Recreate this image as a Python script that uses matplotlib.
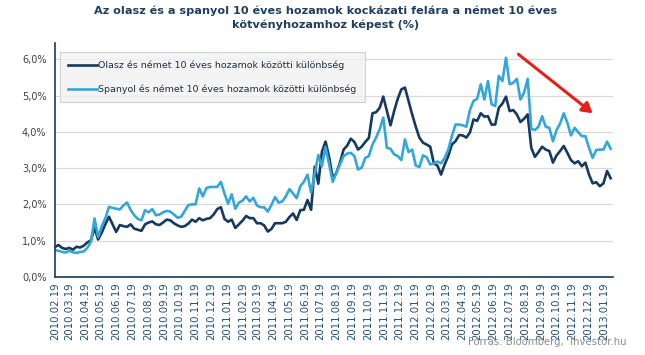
import numpy as np
import pandas as pd
import matplotlib
matplotlib.use("Agg")
import matplotlib.pyplot as plt
from matplotlib.ticker import FuncFormatter

# heti adatok 2010.02.19-tol (becsült értékek a grafikonról)
datumok = pd.date_range("2010-02-19", periods=155, freq="7D")

olasz = [0.82, 0.88, 0.80, 0.77, 0.80, 0.75, 0.83, 0.81, 0.86, 0.95,
         1.01, 1.35, 1.03, 1.22, 1.45, 1.66, 1.45, 1.24, 1.43, 1.40,
         1.38, 1.45, 1.33, 1.30, 1.27, 1.45, 1.50, 1.53, 1.45, 1.43,
         1.50, 1.58, 1.56, 1.48, 1.42, 1.38, 1.40, 1.47, 1.58, 1.52,
         1.62, 1.56, 1.60, 1.62, 1.72, 1.87, 1.92, 1.60, 1.52, 1.58,
         1.35, 1.45, 1.55, 1.68, 1.62, 1.62, 1.48, 1.48, 1.42, 1.25,
         1.32, 1.48, 1.48, 1.48, 1.52, 1.65, 1.75, 1.57, 1.84, 1.85,
         2.12, 1.85, 3.04, 2.57, 3.45, 3.73, 3.30, 2.72, 2.87, 3.15,
         3.51, 3.62, 3.81, 3.72, 3.51, 3.59, 3.72, 3.83, 4.51, 4.54,
         4.66, 4.97, 4.57, 4.18, 4.57, 4.91, 5.17, 5.22, 4.85, 4.48,
         4.14, 3.84, 3.70, 3.65, 3.59, 3.13, 3.07, 2.82, 3.10, 3.33,
         3.65, 3.74, 3.91, 3.90, 3.84, 3.98, 4.34, 4.30, 4.51, 4.42,
         4.43, 4.20, 4.20, 4.66, 4.78, 4.97, 4.57, 4.60, 4.48, 4.27,
         4.36, 4.48, 3.56, 3.31, 3.44, 3.59, 3.51, 3.47, 3.15, 3.35,
         3.47, 3.61, 3.42, 3.22, 3.13, 3.19, 3.05, 3.15, 2.82, 2.58,
         2.61, 2.50, 2.58, 2.92, 2.72]

spanyol = [0.74, 0.72, 0.69, 0.67, 0.72, 0.68, 0.66, 0.69, 0.70, 0.80,
           0.96, 1.61, 1.10, 1.40, 1.62, 1.93, 1.90, 1.88, 1.86, 1.97,
           2.05, 1.85, 1.70, 1.60, 1.56, 1.84, 1.78, 1.87, 1.70, 1.72,
           1.78, 1.82, 1.80, 1.72, 1.63, 1.66, 1.82, 1.98, 2.00, 2.00,
           2.44, 2.22, 2.45, 2.48, 2.48, 2.48, 2.62, 2.30, 2.02, 2.28,
           1.88, 2.05, 2.10, 2.22, 2.08, 2.18, 1.97, 1.92, 1.92, 1.80,
           1.98, 2.20, 2.05, 2.08, 2.22, 2.42, 2.30, 2.17, 2.50, 2.62,
           2.82, 2.32, 2.85, 3.36, 3.05, 3.58, 3.10, 2.62, 2.87, 3.10,
           3.33, 3.40, 3.42, 3.33, 2.96, 3.01, 3.28, 3.33, 3.65, 3.84,
           4.07, 4.39, 3.56, 3.53, 3.38, 3.33, 3.22, 3.79, 3.44, 3.51,
           3.07, 3.03, 3.35, 3.30, 3.10, 3.13, 3.18, 3.13, 3.28, 3.51,
           3.88, 4.20, 4.20, 4.18, 4.14, 4.60, 4.85, 4.91, 5.31, 4.89,
           5.40, 4.76, 4.71, 5.54, 5.40, 6.04, 5.31, 5.35, 5.46, 4.89,
           5.08, 5.46, 4.08, 4.05, 4.14, 4.43, 4.14, 4.11, 3.74, 4.05,
           4.23, 4.51, 4.25, 3.90, 4.11, 3.99, 3.88, 3.88, 3.56, 3.28,
           3.50, 3.51, 3.51, 3.73, 3.53]

honap_tickek = pd.date_range("2010-02-01", "2013-01-01", freq="MS") + pd.Timedelta(days=18)
honap_cimkek = [d.strftime("%Y.%m.%d") for d in honap_tickek]

sotet = "#163A5F"
vilagos = "#35A6DA"

fig = plt.figure(figsize=(6.45, 3.55), dpi=100)
ax = fig.add_axes([0.085, 0.22, 0.865, 0.659])

ax.plot(datumok, olasz, color=sotet, lw=1.9,
        label="Olasz és német 10 éves hozamok közötti különbség")
ax.plot(datumok, spanyol, color=vilagos, lw=1.9,
        label="Spanyol és német 10 éves hozamok közötti különbség")

ax.set_ylim(0, 6.45)
ax.set_yticks(np.arange(0, 7, 1))
ax.yaxis.set_major_formatter(FuncFormatter(lambda v, p: f"{v:.1f}%".replace(".", ",")))
ax.set_xlim(datumok[0], pd.Timestamp("2013-02-05"))
ax.set_xticks(honap_tickek)
ax.set_xticklabels(honap_cimkek, rotation=90, fontsize=7.3, color="#1F4E79")
ax.tick_params(axis="y", labelsize=7, colors="#404040", length=0, pad=6)
ax.tick_params(axis="x", length=0, pad=4)

ax.grid(axis="y", color="#D9D9D9", lw=0.9)
ax.set_axisbelow(True)
for s in ["top", "right"]:
    ax.spines[s].set_visible(False)
for s in ["left", "bottom"]:
    ax.spines[s].set_color(sotet)
    ax.spines[s].set_linewidth(1.2)

leg = ax.legend(loc="upper left", bbox_to_anchor=(0.009, 0.962), fontsize=6.8,
                frameon=True, fancybox=False, handlelength=3.0,
                labelspacing=1.55, borderpad=0.9, handletextpad=0.15,
                borderaxespad=0)
leg.get_frame().set_facecolor("#F2F2F2")
leg.get_frame().set_edgecolor("#C8C8C8")
leg.get_frame().set_linewidth(0.8)
for t in leg.get_texts():
    t.set_color("#1F2F3F")

ax.annotate("", xy=(0.968, 0.692), xytext=(0.827, 0.959), xycoords="axes fraction",
            arrowprops=dict(arrowstyle="-|>,head_length=0.6,head_width=0.35",
                            color="#E8201A", lw=2.2))

fig.text(0.505, 0.985, "Az olasz és a spanyol 10 éves hozamok kockázati felára a német 10 éves\nkötvényhozamhoz képest (%)",
         ha="center", va="top", fontsize=8.1, fontweight="bold", color="#1F3F5F",
         linespacing=1.4)
fig.text(0.972, 0.022, "Forrás: Bloomberg,  Investor.hu", ha="right", va="bottom",
         fontsize=7.3, color="#8C8C8C")

fig.savefig("out.png", dpi=100)
